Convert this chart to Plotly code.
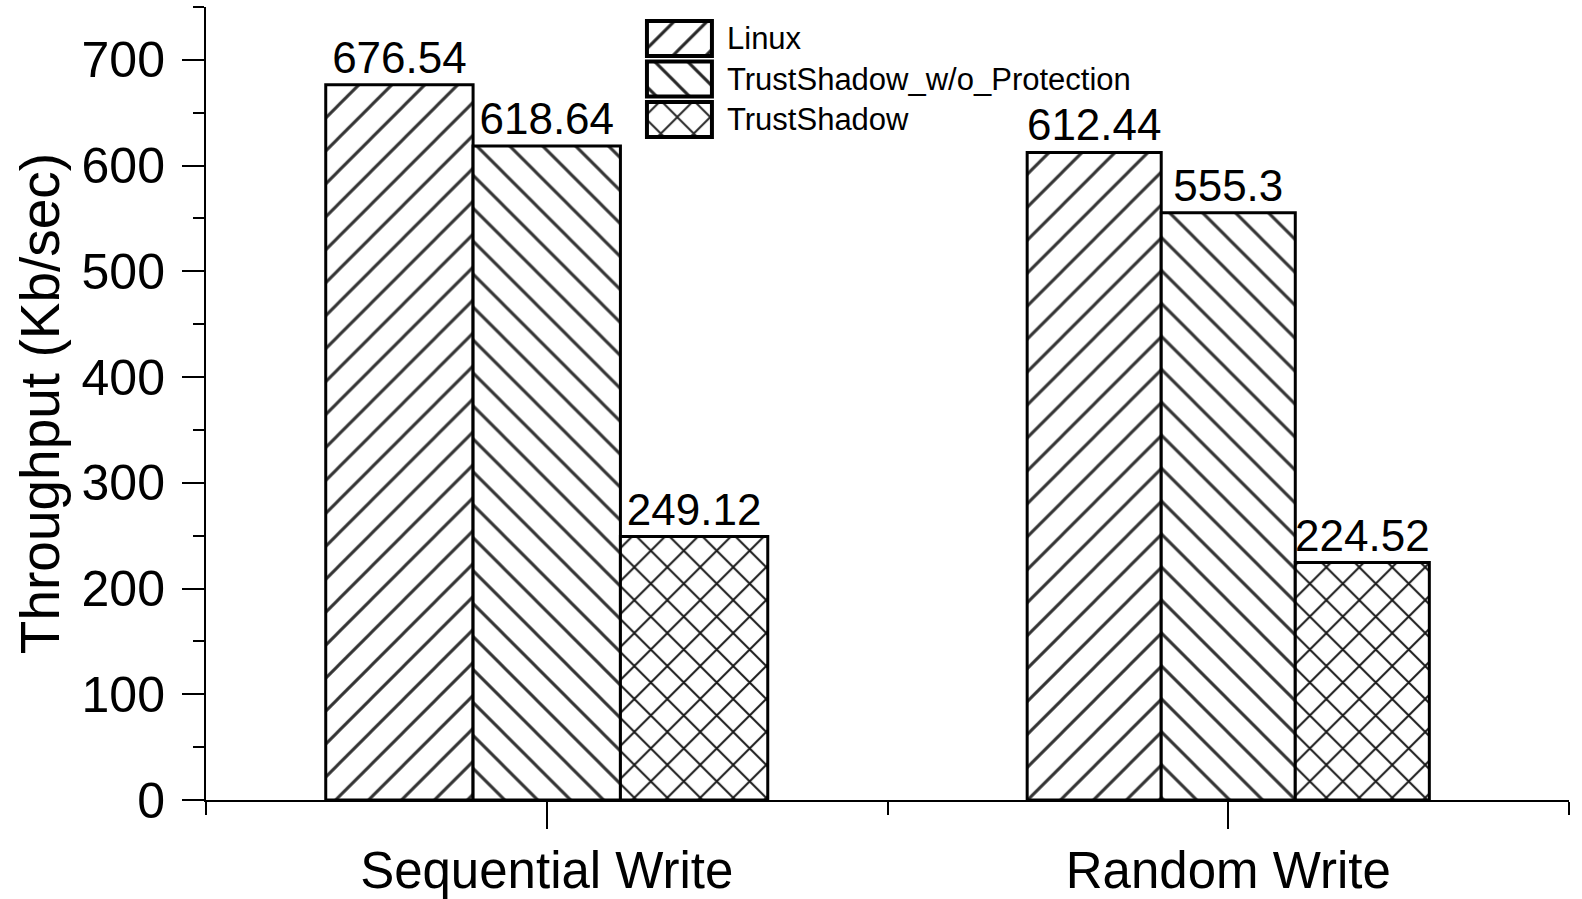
import plotly.graph_objects as go

# ---------------- data ----------------
categories = ["Sequential Write", "Random Write"]
series_names = ["Linux", "TrustShadow_w/o_Protection", "TrustShadow"]
linux = [676.54, 612.44]
trustshadow_wo = [618.64, 555.3]
trustshadow = [249.12, 224.52]
y_tick_values = [0, 100, 200, 300, 400, 500, 600, 700]
y_minor_values = [50, 150, 250, 350, 450, 550, 650, 750]

series_values = [linux, trustshadow_wo, trustshadow]

# ---------------- style ----------------
FONT = "Liberation Sans, Arial, sans-serif"
patterns = ["/", "\\", "x"]
pattern_solidity = [0.13, 0.13, 0.16]
pattern_opacity = [0.8, 0.8, 0.9]
bar_widths = [0.2162, 0.1967]       # per category, in category units
PAT_SIZE = 23.3

x_pos = list(range(len(categories)))

fig = go.Figure()

for i, (name, vals) in enumerate(zip(series_names, series_values)):
    offsets = [(-1.5 + i) * w for w in bar_widths]
    fig.add_trace(go.Bar(
        name=name,
        x=x_pos,
        y=vals,
        width=bar_widths,
        offset=offsets,
        text=[f"{v:g}" for v in vals],
        textposition="outside",
        textfont=dict(family=FONT, size=44, color="black"),
        constraintext="none",
        cliponaxis=False,
        marker=dict(
            color="white",
            line=dict(color="black", width=3),
            pattern=dict(shape=patterns[i], size=PAT_SIZE, solidity=pattern_solidity[i],
                         fgcolor="black", fgopacity=pattern_opacity[i], bgcolor="white"),
        ),
        showlegend=False,
        xaxis="x", yaxis="y",
    ))

# custom legend swatches (pattern-filled boxes) on a small helper subplot
legend_rows = list(range(len(series_names)))
fig.add_trace(go.Bar(
    x=[1] * len(series_names),
    y=legend_rows,
    base=0,
    orientation="h",
    width=0.864,
    marker=dict(
        color="white",
        line=dict(color="black", width=4),
        pattern=dict(shape=patterns, size=PAT_SIZE, solidity=pattern_solidity,
                     fgcolor="black", fgopacity=0.85, bgcolor="white"),
    ),
    showlegend=False,
    hoverinfo="skip",
    xaxis="x2", yaxis="y2",
))

annotations = []
for r, name in zip(legend_rows, series_names):
    annotations.append(dict(
        x=0.3808, xref="paper", y=r, yref="y2",
        text=name, showarrow=False, xanchor="left", yanchor="middle",
        font=dict(family=FONT, size=31, color="black"),
    ))

fig.update_layout(
    width=1582, height=899,
    margin=dict(l=206, r=13, t=7, b=99, autoexpand=False),
    paper_bgcolor="white", plot_bgcolor="white",
    barmode="overlay",
    font=dict(family=FONT, color="black"),
    annotations=annotations,
    xaxis=dict(
        range=[-0.5, 1.5],
        tickvals=x_pos, ticktext=categories,
        showline=True, linecolor="black", linewidth=2,
        ticks="outside", ticklen=27, tickwidth=2, tickcolor="black",
        minor=dict(tickvals=[-0.5, 0.5, 1.5], ticks="outside", ticklen=13,
                   tickwidth=2, tickcolor="black", showgrid=False),
        showgrid=False, zeroline=False, automargin=False,
        tickfont=dict(family=FONT, size=51, color="black"),
        ticklabelstandoff=-2,
    ),
    yaxis=dict(
        range=[0, 750],
        tickvals=y_tick_values,
        showline=True, linecolor="black", linewidth=2,
        ticks="outside", ticklen=22, tickwidth=2, tickcolor="black",
        minor=dict(tickvals=y_minor_values, ticks="outside", ticklen=11,
                   tickwidth=2, tickcolor="black", showgrid=False),
        showgrid=False, zeroline=False, automargin=False,
        tickfont=dict(family=FONT, size=50, color="black"),
        ticklabelstandoff=7,
        title=dict(text="Throughput (Kb/sec)", standoff=4,
                   font=dict(family=FONT, size=55, color="black")),
    ),
    xaxis2=dict(domain=[0.3216, 0.3731], range=[-0.04, 1.04], anchor="y2",
                visible=False, fixedrange=True),
    yaxis2=dict(domain=[0.8326, 0.9858], range=[2.5, -0.5], anchor="x2",
                visible=False, fixedrange=True),
)

fig.write_html(
    "out.html",
    config={"displayModeBar": False},
    post_script="document.body.style.margin='0';document.body.style.padding='0';"
                "document.documentElement.style.overflow='hidden';",
)
